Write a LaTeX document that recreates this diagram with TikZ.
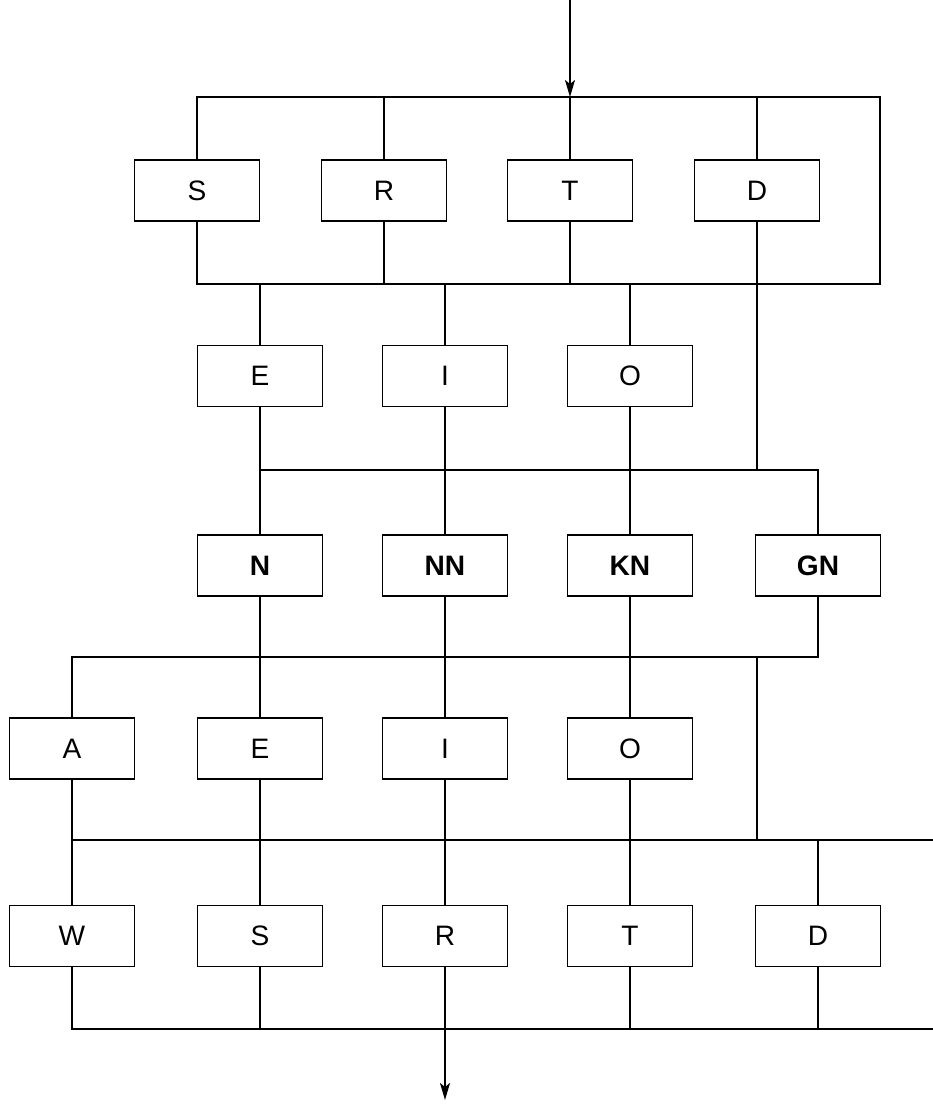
\documentclass[tikz,border=0pt]{standalone}
\usepackage{fontspec}
\setmainfont{Liberation Sans}
\usepackage{tikz}
\usetikzlibrary{arrows.meta}

\begin{document}
\begin{tikzpicture}[
  x=0.02cm, y=-0.02cm, line width=1.1pt,
  box/.style={draw, line width=1.1pt, minimum width=2.5cm, minimum height=1.22cm,
              inner sep=0pt, font=\fontsize{16}{18}\selectfont},
  boldbox/.style={box, font=\fontsize{16}{18}\selectfont\bfseries},
  flow/.style={-{Stealth[length=3.4mm,width=2mm,inset=0.8mm]}}
]
  \useasboundingbox (0,0) rectangle (933,1110);

  % --- bus levels ---
  \coordinate (top) at (0,0);
  \coordinate (b0) at (0,97);
  \coordinate (b1) at (0,284);
  \coordinate (b2) at (0,470);
  \coordinate (b3) at (0,657);
  \coordinate (b4) at (0,840);
  \coordinate (b5) at (0,1029);
  \coordinate (bot) at (0,1100);
  \coordinate (rt) at (880,0);
  \coordinate (edge) at (933,0);

  % --- Boxes, row by row ---
  \foreach \name/\lbl/\x in {s1/S/197, r1/R/384, t1/T/570, d1/D/757}
    \node[box] (\name) at (\x,190.5) {\lbl};
  \foreach \name/\lbl/\x in {e2/E/260, i2/I/445, o2/O/630}
    \node[box] (\name) at (\x,376) {\lbl};
  \foreach \name/\lbl/\x in {n3/N/260, nn3/NN/445, kn3/KN/630, gn3/GN/818}
    \node[boldbox] (\name) at (\x,565.5) {\lbl};
  \foreach \name/\lbl/\x in {a4/A/72, e4/E/260, i4/I/445, o4/O/630}
    \node[box] (\name) at (\x,748.5) {\lbl};
  \foreach \name/\lbl/\x in {w5/W/72, s5/S/260, r5/R/445, t5/T/630, d5/D/818}
    \node[box] (\name) at (\x,936) {\lbl};

  % --- Entry and the first loop ---
  \draw[flow] (t1 |- top) -- (t1 |- b0);
  \draw (s1.north) |- (rt |- b0) -- (rt |- b1) -| (s1.south);
  \foreach \n in {r1,t1,d1}{
    \draw (\n.north) -- (\n |- b0);
    \draw (\n.south) -- (\n |- b1);
  }
  \draw (d1.south) -- (d1 |- b2);

  % --- Vowels, then the nasal group ---
  \foreach \n in {e2,i2,o2}
    \draw (\n.north) -- (\n |- b1);
  \draw (e2.south) -- (n3.north);
  \draw (i2.south) -- (nn3.north);
  \draw (o2.south) -- (kn3.north);
  \draw (e2 |- b2) -| (gn3.north);

  % --- Second vowel row ---
  \draw (n3.south) -- (e4.north);
  \draw (nn3.south) -- (i4.north);
  \draw (kn3.south) -- (o4.north);
  \draw (a4.north) |- (gn3 |- b3) -- (gn3.south);
  \draw (d1 |- b3) -- (d1 |- b4);

  % --- Last consonant row and exit ---
  \draw (a4.south) -- (w5.north);
  \draw (e4.south) -- (s5.north);
  \draw (i4.south) -- (r5.north);
  \draw (o4.south) -- (t5.north);
  \draw (a4 |- b4) -- (edge |- b4);
  \draw (d5.north) -- (d5 |- b4);
  \draw (w5.south) |- (edge |- b5);
  \foreach \n in {s5,t5,d5}
    \draw (\n.south) -- (\n |- b5);
  \draw[flow] (r5.south) -- (r5 |- bot);
\end{tikzpicture}
\end{document}
